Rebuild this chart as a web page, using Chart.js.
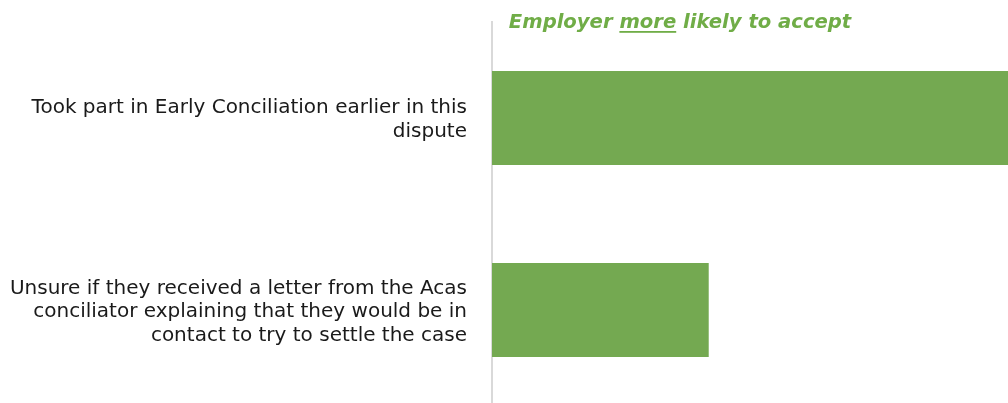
<!DOCTYPE html>
<html lang="en">
<head>
    <meta charset="UTF-8">
    <title>Employer more likely to accept</title>
    <script src="https://cdn.jsdelivr.net/npm/chart.js"></script>
    <style>
        html, body {
            margin: 0;
            padding: 0;
            background: #fff;
            overflow: hidden;
        }
        .wrap {
            position: relative;
            width: 1008px;
            height: 406px;
        }
    </style>
</head>
<body>
    <div class="wrap">
        <canvas id="chart"></canvas>
    </div>

    <script>
        // categories (already split into lines the way the picture wraps them)
        const categories = [
            ['Took part in Early Conciliation earlier in this', 'dispute'],
            ['Unsure if they received a letter from the Acas', 'conciliator explaining that they would be in', 'contact to try to settle the case']
        ];
        // relative bar lengths (no axis ticks shown)
        const values = [100, 42];
        const barColour = '#74a951';
        const titleColour = '#70ad47';
        const fontFamily = 'Verdana, "DejaVu Sans", sans-serif';

        // heading with an underlined "more"
        const titlePlugin = {
            id: 'heading',
            afterDraw(chart) {
                const ctx = chart.ctx;
                const parts = ['Employer ', 'more', ' likely to accept'];
                ctx.save();
                ctx.font = 'italic bold 19.6px ' + fontFamily;
                ctx.fillStyle = titleColour;
                ctx.textBaseline = 'alphabetic';
                const total = parts.reduce((s, p) => s + ctx.measureText(p).width, 0);
                let x = 680 - total / 2;
                const y = 28;
                parts.forEach((p, i) => {
                    const w = ctx.measureText(p).width;
                    ctx.fillText(p, x, y);
                    if (i === 1) {
                        ctx.fillRect(x, y + 3, w, 1.8);
                    }
                    x += w;
                });
                ctx.restore();
            }
        };

        new Chart(document.getElementById('chart'), {
            type: 'bar',
            data: {
                labels: categories,
                datasets: [{
                    data: values,
                    backgroundColor: barColour,
                    borderWidth: 0,
                    barPercentage: 0.49,
                    categoryPercentage: 1
                }]
            },
            options: {
                indexAxis: 'y',
                responsive: true,
                maintainAspectRatio: false,
                animation: false,
                layout: { padding: { top: 22, right: 0, bottom: 0, left: 0 } },
                plugins: {
                    legend: { display: false },
                    tooltip: { enabled: false }
                },
                scales: {
                    x: {
                        display: false,
                        min: 0,
                        max: 100
                    },
                    y: {
                        afterFit(scale) {
                            scale.width = 492;
                            scale.paddingTop = 0;
                            scale.paddingBottom = 0;
                        },
                        grid: { display: false },
                        border: { display: true, color: '#d9d9d9', width: 2 },
                        ticks: {
                            padding: 17,
                            labelOffset: 2,
                            color: '#1a1a1a',
                            font: { family: fontFamily, size: 20, lineHeight: 1.18 }
                        }
                    }
                }
            },
            plugins: [titlePlugin]
        });
    </script>
</body>
</html>
